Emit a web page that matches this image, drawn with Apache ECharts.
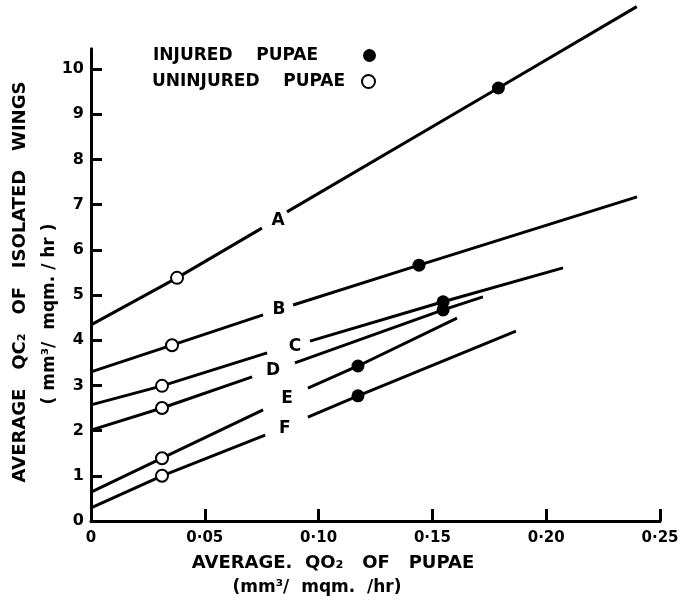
<!DOCTYPE html>
<html>
<head>
<meta charset="utf-8">
<script src="https://cdn.jsdelivr.net/npm/echarts@6/dist/echarts.min.js"></script>
<style>
  html, body { margin: 0; padding: 0; background: #fff; }
  #chart { width: 684px; height: 603px; }
</style>
</head>
<body>
<div id="chart"></div>
<script>
// tick labels
const xTicks = [0, 0.05, 0.10, 0.15, 0.20, 0.25];
const yTicks = [0, 1, 2, 3, 4, 5, 6, 7, 8, 9, 10];

// fitted lines, '-' marks the gap where the letter sits
const lineA = [[0, 4.34], [0.0378, 5.38], [0.0751, 6.48], ['-', '-'], [0.0861, 6.84], [0.179, 9.58], [0.2398, 11.38]];
const lineB = [[0, 3.30], [0.0356, 3.89], [0.0756, 4.56], ['-', '-'], [0.0888, 4.78], [0.1441, 5.66], [0.2399, 7.17]];
const lineC = [[0, 2.57], [0.0312, 2.99], [0.0774, 3.72], ['-', '-'], [0.0962, 3.98], [0.1547, 4.85], [0.2074, 5.60]];
const lineD = [[0, 2.01], [0.0312, 2.50], [0.0708, 3.19], ['-', '-'], [0.0896, 3.50], [0.1547, 4.67], [0.1722, 4.96]];
const lineE = [[0, 0.64], [0.0312, 1.39], [0.0756, 2.46], ['-', '-'], [0.0953, 2.94], [0.1173, 3.43], [0.1608, 4.49]];
const lineF = [[0, 0.29], [0.0312, 1.00], [0.0765, 1.90], ['-', '-'], [0.0953, 2.30], [0.1173, 2.77], [0.1867, 4.20]];

// measured points
const injured = [[0.179, 9.58], [0.1441, 5.66], [0.1547, 4.85], [0.1547, 4.67], [0.1173, 3.43], [0.1173, 2.77]];
const uninjured = [[0.0378, 5.38], [0.0356, 3.89], [0.0312, 2.99], [0.0312, 2.50], [0.0312, 1.39], [0.0312, 1.00]];

// line letters
const lineNames = ['A', 'B', 'C', 'D', 'E', 'F'];
const labelPos = [[0.0822, 6.64], [0.0826, 4.67], [0.0896, 3.85], [0.0800, 3.32], [0.0861, 2.71], [0.0852, 2.04]];

const FONT = '"DejaVu Sans", "Liberation Sans", sans-serif';
const lines = [lineA, lineB, lineC, lineD, lineE, lineF];

var myChart = echarts.init(document.getElementById('chart'));

var series = lines.map(function (d, i) {
  return {
    name: 'line' + lineNames[i],
    type: 'line',
    data: d,
    symbol: 'none',
    clip: false,
    connectNulls: false,
    lineStyle: { color: '#000', width: 3 },
    z: 2
  };
});

series.push({
  name: 'INJURED PUPAE',
  type: 'scatter',
  data: injured,
  symbol: 'circle',
  symbolSize: 13,
  itemStyle: { color: '#000', opacity: 1 },
  z: 4
});
series.push({
  name: 'UNINJURED PUPAE',
  type: 'scatter',
  data: uninjured,
  symbol: 'circle',
  symbolSize: 12,
  itemStyle: { color: '#fff', borderColor: '#000', borderWidth: 2, opacity: 1 },
  z: 4
});
series.push({
  name: 'letters',
  type: 'scatter',
  data: labelPos.map(function (p, i) {
    return { value: p, name: lineNames[i] };
  }),
  symbolSize: 0,
  itemStyle: { opacity: 1 },
  label: {
    show: true,
    position: 'inside',
    formatter: '{b}',
    color: '#000',
    fontFamily: FONT,
    fontWeight: 'bold',
    fontSize: 17
  },
  z: 5
});

function legendFor(name, top) {
  return {
    data: [name],
    right: 303,
    top: top,
    orient: 'vertical',
    align: 'right',
    itemWidth: 13,
    itemHeight: 13,
    selectedMode: false,
    formatter: function (n) {
      return '{t|' + n.replace(' ', '    ') + '}';
    },
    textStyle: {
      rich: {
        t: { width: 205, align: 'left', fontFamily: FONT, fontWeight: 'bold', fontSize: 17, color: '#000', lineHeight: 18 }
      }
    }
  };
}

var option = {
  animation: false,
  backgroundColor: '#fff',
  grid: { left: 91, right: 24, top: 48.7, bottom: 82 },
  legend: [legendFor('INJURED PUPAE', 42), legendFor('UNINJURED PUPAE', 68)],
  xAxis: {
    type: 'value',
    min: 0,
    max: 0.25,
    interval: 0.05,
    splitLine: { show: false },
    axisLine: { lineStyle: { color: '#000', width: 3 } },
    axisTick: { inside: true, length: 12, lineStyle: { color: '#000', width: 3 } },
    axisLabel: {
      customValues: xTicks,
      margin: 10,
      color: '#000',
      fontFamily: FONT,
      fontWeight: 'bold',
      fontSize: 15,
      formatter: function (v) {
        return v === 0 ? '0' : v.toFixed(2).replace('.', '·');
      }
    }
  },
  yAxis: {
    type: 'value',
    min: 0,
    max: 10.45,
    interval: 1,
    splitLine: { show: false },
    axisLine: { show: true, lineStyle: { color: '#000', width: 3 } },
    axisTick: { inside: true, length: 11, customValues: yTicks, lineStyle: { color: '#000', width: 3 } },
    axisLabel: {
      customValues: yTicks,
      margin: 7,
      color: '#000',
      fontFamily: FONT,
      fontWeight: 'bold',
      fontSize: 16
    }
  },
  graphic: [
    {
      type: 'text', x: 20, y: 282, rotation: Math.PI / 2,
      style: { text: 'AVERAGE   QC₂   OF   ISOLATED   WINGS', align: 'center', verticalAlign: 'middle',
        font: 'bold 18px ' + FONT, fill: '#000' }
    },
    {
      type: 'text', x: 50, y: 314, rotation: Math.PI / 2,
      style: { text: '( mm³/  mqm. / hr )', align: 'center', verticalAlign: 'middle',
        font: 'bold 17px ' + FONT, fill: '#000' }
    },
    {
      type: 'text', x: 333, y: 563,
      style: { text: 'AVERAGE.  QO₂   OF   PUPAE', align: 'center', verticalAlign: 'middle',
        font: 'bold 18px ' + FONT, fill: '#000' }
    },
    {
      type: 'text', x: 317, y: 588,
      style: { text: '(mm³/  mqm.  /hr)', align: 'center', verticalAlign: 'middle',
        font: 'bold 17px ' + FONT, fill: '#000' }
    }
  ],
  series: series
};

myChart.setOption(option);
</script>
</body>
</html>
